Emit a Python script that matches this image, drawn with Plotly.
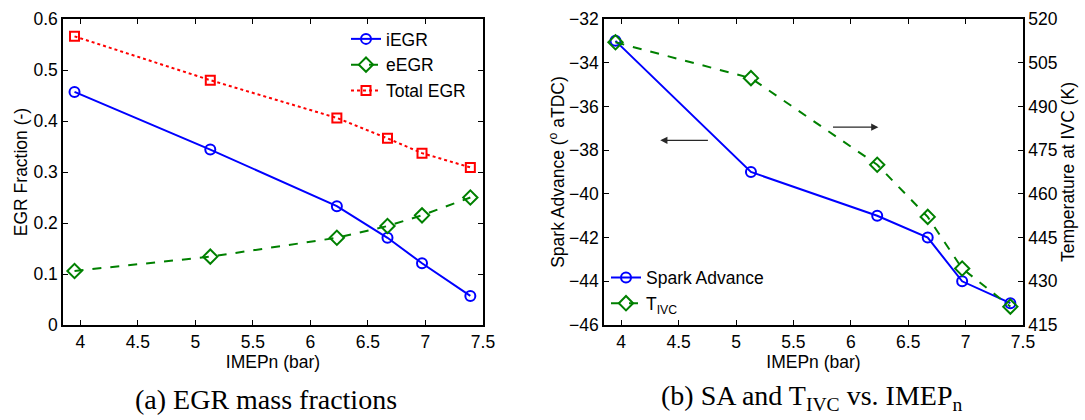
import plotly.graph_objects as go

# ---- data ----
imep = [3.95, 5.13, 6.23, 6.67, 6.97, 7.39]
iegr = [0.457, 0.344, 0.233, 0.171, 0.121, 0.057]
eegr = [0.106, 0.134, 0.171, 0.194, 0.215, 0.250]
total_egr = [0.566, 0.480, 0.406, 0.366, 0.337, 0.309]
spark_adv = [-33, -39, -41, -42, -44, -45]
t_ivc = [512.0, 499.7, 470.0, 452.1, 434.4, 421.3]

x_ticks = [4, 4.5, 5, 5.5, 6, 6.5, 7, 7.5]

BLUE = "rgb(0,0,255)"
GREEN = "rgb(0,128,0)"
RED = "rgb(255,0,0)"
FONT = "Liberation Sans, Arial, sans-serif"
SERIF = "Liberation Serif, Times New Roman, serif"
FS = 17.5

fig = go.Figure()

# (a)
fig.add_trace(go.Scatter(x=imep, y=iegr, name="iEGR", mode="lines+markers",
                         line=dict(color=BLUE, width=2, dash="solid"),
                         marker=dict(symbol="circle-open", size=10, color=BLUE, line=dict(width=2)),
                         xaxis="x", yaxis="y", legend="legend"))
fig.add_trace(go.Scatter(x=imep, y=eegr, name="eEGR", mode="lines+markers",
                         line=dict(color=GREEN, width=2, dash="dash"),
                         marker=dict(symbol="diamond-open", size=11, color=GREEN, line=dict(width=2)),
                         xaxis="x", yaxis="y", legend="legend"))
fig.add_trace(go.Scatter(x=imep, y=total_egr, name="Total EGR", mode="lines+markers",
                         line=dict(color=RED, width=2, dash="dot"),
                         marker=dict(symbol="square-open", size=9, color=RED, line=dict(width=2)),
                         xaxis="x", yaxis="y", legend="legend"))

# (b)
fig.add_trace(go.Scatter(x=imep, y=spark_adv, name="Spark Advance", mode="lines+markers",
                         line=dict(color=BLUE, width=2, dash="solid"),
                         marker=dict(symbol="circle-open", size=10, color=BLUE, line=dict(width=2)),
                         xaxis="x2", yaxis="y2", legend="legend2"))
fig.add_trace(go.Scatter(x=imep, y=t_ivc, name="T<sub>IVC</sub>", mode="lines+markers",
                         line=dict(color=GREEN, width=2, dash="dash"),
                         marker=dict(symbol="diamond-open", size=11, color=GREEN, line=dict(width=2)),
                         xaxis="x2", yaxis="y3", legend="legend2"))

ydom = [95 / 420, 401 / 420]
common_x = dict(range=[3.85, 7.5], tickmode="array", tickvals=x_ticks,
                ticks="inside", ticklen=5, tickwidth=1, tickcolor="black",
                showline=True, linecolor="black", linewidth=1.5, mirror="ticks",
                showgrid=False, zeroline=False, tickfont=dict(size=FS, color="black"),
                ticklabelstandoff=0)
common_y = dict(ticks="inside", ticklen=5, tickwidth=1, tickcolor="black",
                showline=True, linecolor="black", linewidth=1.5,
                showgrid=False, zeroline=False, tickfont=dict(size=FS, color="black"))

fig.update_layout(
    width=1085, height=420,
    margin=dict(l=0, r=0, t=0, b=0, autoexpand=False),
    paper_bgcolor="white", plot_bgcolor="white",
    font=dict(family=FONT, size=FS, color="black"),
    xaxis=dict(domain=[63 / 1085, 483 / 1085], anchor="y",
               title=dict(text="IMEPn (bar)", font=dict(size=FS), standoff=0), **common_x),
    yaxis=dict(domain=ydom, anchor="x", range=[0, 0.6], dtick=0.1, mirror="ticks",
               title=dict(text="EGR Fraction (-)", font=dict(size=FS), standoff=1), **common_y),
    xaxis2=dict(domain=[604 / 1085, 1023 / 1085], anchor="y2",
                title=dict(text="IMEPn (bar)", font=dict(size=FS), standoff=0), **common_x),
    yaxis2=dict(domain=ydom, anchor="x2", range=[-46, -32], dtick=2,
                title=dict(text="Spark Advance (<sup>o</sup> aTDC)", font=dict(size=FS), standoff=0), **common_y),
    yaxis3=dict(domain=ydom, anchor="x2", overlaying="y2", side="right", range=[415, 520],
                tick0=415, dtick=15,
                title=dict(text="Temperature at IVC (K)", font=dict(size=FS), standoff=3), **common_y),
    legend=dict(x=346 / 1085, y=0.95, xanchor="left", yanchor="top", bgcolor="rgba(0,0,0,0)",
                font=dict(size=FS), itemwidth=30, tracegroupgap=0),
    legend2=dict(x=606 / 1085, y=0.382, xanchor="left", yanchor="top", bgcolor="rgba(0,0,0,0)",
                 font=dict(size=FS), itemwidth=30, tracegroupgap=0),
    showlegend=True,
)

# arrows indicating which axis each curve belongs to
fig.add_annotation(x=4.34, y=-37.55, ax=4.79, ay=-37.55, xref="x2", yref="y2", axref="x2", ayref="y2",
                   showarrow=True, arrowhead=2, arrowsize=1.2, arrowwidth=1.2, arrowcolor="rgb(40,40,40)", text=" ")
fig.add_annotation(x=6.24, y=-36.95, ax=5.81, ay=-36.95, xref="x2", yref="y2", axref="x2", ayref="y2",
                   showarrow=True, arrowhead=2, arrowsize=1.2, arrowwidth=1.2, arrowcolor="rgb(40,40,40)", text=" ")

# captions
fig.add_annotation(text="(a) EGR mass fractions", x=266 / 1085, y=1 - 399 / 420, xref="paper", yref="paper",
                   yanchor="middle", xanchor="center", showarrow=False,
                   font=dict(family=SERIF, size=28, color="black"))
fig.add_annotation(text="(b) SA and T<sub>IVC</sub> vs. IMEP<sub>n</sub>", x=811 / 1085, y=1 - 397 / 420,
                   xref="paper", yref="paper", yanchor="middle", xanchor="center", showarrow=False,
                   font=dict(family=SERIF, size=28, color="black"))

fig.write_html("out.html")
